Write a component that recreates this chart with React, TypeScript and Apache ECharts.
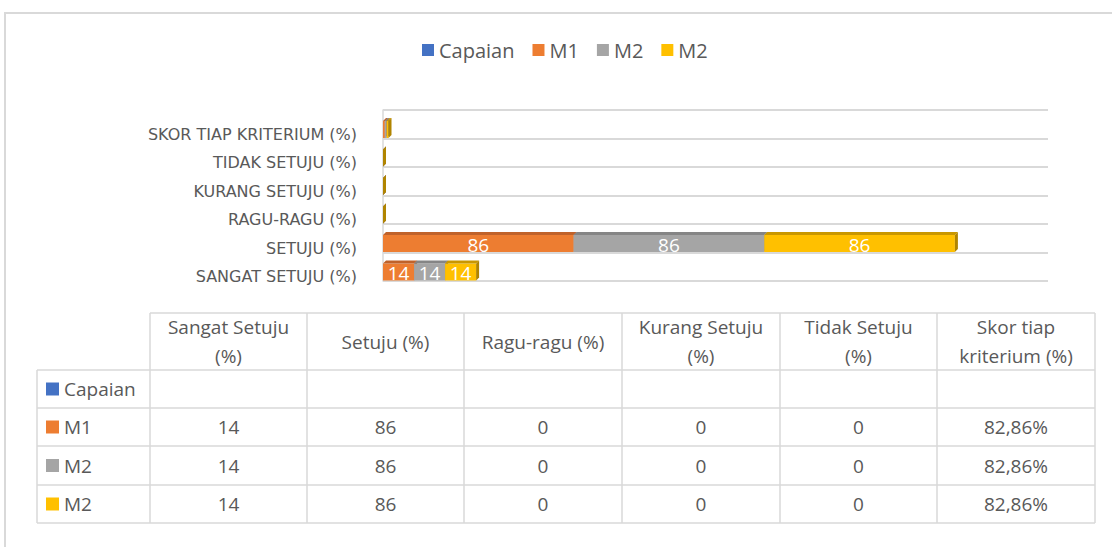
import React, { useEffect, useRef } from "react";
import * as echarts from "echarts";

const categories = [
  "Sangat Setuju (%)",
  "Setuju (%)",
  "Ragu-ragu (%)",
  "Kurang Setuju (%)",
  "Tidak Setuju (%)",
  "Skor tiap kriterium (%)",
];
const tableHeaders = [
  "Sangat Setuju\n(%)",
  "Setuju (%)",
  "Ragu-ragu (%)",
  "Kurang Setuju\n(%)",
  "Tidak Setuju\n(%)",
  "Skor tiap\nkriterium (%)",
];
const seriesNames = ["Capaian", "M1", "M2", "M2"];
const capaianValues: (number | null)[] = [null, null, null, null, null, null];
const m1Values = [14, 86, 0, 0, 0, 0.8286];
const m2Values = [14, 86, 0, 0, 0, 0.8286];
const m2bValues = [14, 86, 0, 0, 0, 0.8286];
const seriesValues = [capaianValues, m1Values, m2Values, m2bValues];
const frontColors = ["#4472C4", "#ED7D31", "#A5A5A5", "#FFC000"];
const topColors = ["#2f5597", "#c0622a", "#858585", "#c99700"];
const sideColors = ["#2f5597", "#b0561f", "#7a7a7a", "#b08400"];

const FONT = "'Open Sans', 'Noto Sans', sans-serif";
const TEXT_COLOR = "#595959";
const LINE_COLOR = "#d9d9d9";

export default function App() {
  const ref = useRef<HTMLDivElement>(null);
  useEffect(() => {
    if (!ref.current) return;
    const chart = echarts.init(ref.current, null, { renderer: "svg" });

    const barH = 17;
    const dx = 3;
    const dy = -3;

    const cum = categories.map(() => 0);
    const series: any[] = seriesValues.map((vals, si) => {
      const data: any[] = [];
      vals.forEach((v, ci) => {
        if (v === null || v === undefined) return;
        const start = cum[ci];
        const end = start + v;
        cum[ci] = end;
        data.push([ci, start, end]);
      });
      return {
        type: "custom",
        name: seriesNames[si] + "#" + si,
        itemStyle: { color: frontColors[si] },
        encode: { x: [1, 2], y: 0 },
        data,
        renderItem: (params: any, api: any) => {
          const ci = api.value(0);
          const start = api.value(1);
          const end = api.value(2);
          const p0 = api.coord([start, ci]);
          const p1 = api.coord([end, ci]);
          const band = api.size([0, 1])[1];
          const yBottom = p0[1] + band / 2 - 0.5;
          const yTop = yBottom - barH;
          const x0 = p0[0];
          const x1 = p1[0];
          const val = end - start;
          const children: any[] = [
            {
              type: "rect",
              shape: { x: x0, y: yTop, width: x1 - x0, height: barH },
              style: { fill: frontColors[si] },
            },
            {
              type: "polygon",
              shape: {
                points: [
                  [x0, yTop],
                  [x1, yTop],
                  [x1 + dx, yTop + dy],
                  [x0 + dx, yTop + dy],
                ],
              },
              style: { fill: topColors[si] },
            },
            {
              type: "polygon",
              shape: {
                points: [
                  [x1, yTop],
                  [x1, yBottom],
                  [x1 + dx, yBottom + dy],
                  [x1 + dx, yTop + dy],
                ],
              },
              style: { fill: sideColors[si] },
            },
          ];
          if (val >= 5) {
            children.push({
              type: "text",
              style: {
                text: String(Math.round(val)),
                x: (x0 + x1) / 2,
                y: (yTop + yBottom) / 2 + 1,
                align: "center",
                verticalAlign: "middle",
                fill: "#ffffff",
                fontSize: 19,
                fontFamily: FONT,
              },
            });
          }
          return { type: "group", children };
        },
      };
    });

    const colX = [37, 150, 307, 464, 622, 780, 937, 1095];
    const rowY = [313, 370, 408, 446, 485, 523];
    const g: any[] = [];
    g.push({
      type: "rect",
      shape: { x: 5, y: 13, width: 1120, height: 545 },
      style: { fill: "none", stroke: LINE_COLOR, lineWidth: 2 },
      silent: true,
    });
    rowY.forEach((y, ri) => {
      g.push({
        type: "line",
        shape: { x1: ri === 0 ? colX[1] : colX[0], y1: y, x2: colX[7], y2: y },
        style: { stroke: LINE_COLOR, lineWidth: 1.5 },
      });
    });
    colX.forEach((x, i) => {
      g.push({
        type: "line",
        shape: { x1: x, y1: i === 0 ? rowY[1] : rowY[0], x2: x, y2: rowY[5] },
        style: { stroke: LINE_COLOR, lineWidth: 1.5 },
      });
    });
    tableHeaders.forEach((h, i) => {
      g.push({
        type: "text",
        style: {
          text: h,
          x: (colX[i + 1] + colX[i + 2]) / 2,
          y: (rowY[0] + rowY[1]) / 2,
          align: "center",
          verticalAlign: "middle",
          fill: TEXT_COLOR,
          fontSize: 19,
          lineHeight: 29,
          fontFamily: FONT,
        },
      });
    });
    seriesNames.forEach((name, si) => {
      const yc = (rowY[si + 1] + rowY[si + 2]) / 2;
      g.push({
        type: "rect",
        shape: { x: 46, y: yc - 6.5, width: 13, height: 13 },
        style: { fill: frontColors[si] },
      });
      g.push({
        type: "text",
        style: {
          text: name,
          x: 64,
          y: yc,
          align: "left",
          verticalAlign: "middle",
          fill: TEXT_COLOR,
          fontSize: 19,
          fontFamily: FONT,
        },
      });
      seriesValues[si].forEach((v, ci) => {
        if (v === null || v === undefined) return;
        const txt =
          ci === 5
            ? (v * 100).toFixed(2).replace(".", ",") + "%"
            : String(v);
        g.push({
          type: "text",
          style: {
            text: txt,
            x: (colX[ci + 1] + colX[ci + 2]) / 2,
            y: yc,
            align: "center",
            verticalAlign: "middle",
            fill: TEXT_COLOR,
            fontSize: 19,
            fontFamily: FONT,
          },
        });
      });
    });

    chart.setOption({
      animation: false,
      backgroundColor: "#ffffff",
      color: frontColors,
      legend: {
        top: 35,
        left: 417,
        icon: "rect",
        itemWidth: 12,
        itemHeight: 12,
        itemGap: 18,
        selectedMode: false,
        textStyle: { color: TEXT_COLOR, fontSize: 20, fontFamily: FONT },
        formatter: (n: string) => n.split("#")[0],
        data: seriesNames.map((n, i) => n + "#" + i),
      },
      grid: { left: 383, right: 64, top: 110, bottom: 266 },
      xAxis: {
        type: "value",
        min: 0,
        max: 300,
        show: false,
        splitLine: { show: false },
      },
      yAxis: {
        type: "category",
        data: categories,
        axisTick: { show: false },
        axisLine: { show: true, lineStyle: { color: LINE_COLOR, width: 1.5 } },
        splitLine: { show: true, lineStyle: { color: LINE_COLOR, width: 2 } },
        axisLabel: {
          color: TEXT_COLOR,
          fontSize: 16,
          fontFamily: "'DejaVu Sans', sans-serif",
          margin: 26,
          verticalAlign: "top",
          padding: [2, 0, 0, 0],
          formatter: (v: string) => v.toUpperCase(),
        },
      },
      graphic: g,
      series,
    });
    return () => chart.dispose();
  }, []);
  return (
    <div
      ref={ref}
      style={{ position: "absolute", left: 0, top: 0, width: 1112, height: 547 }}
    />
  );
}
